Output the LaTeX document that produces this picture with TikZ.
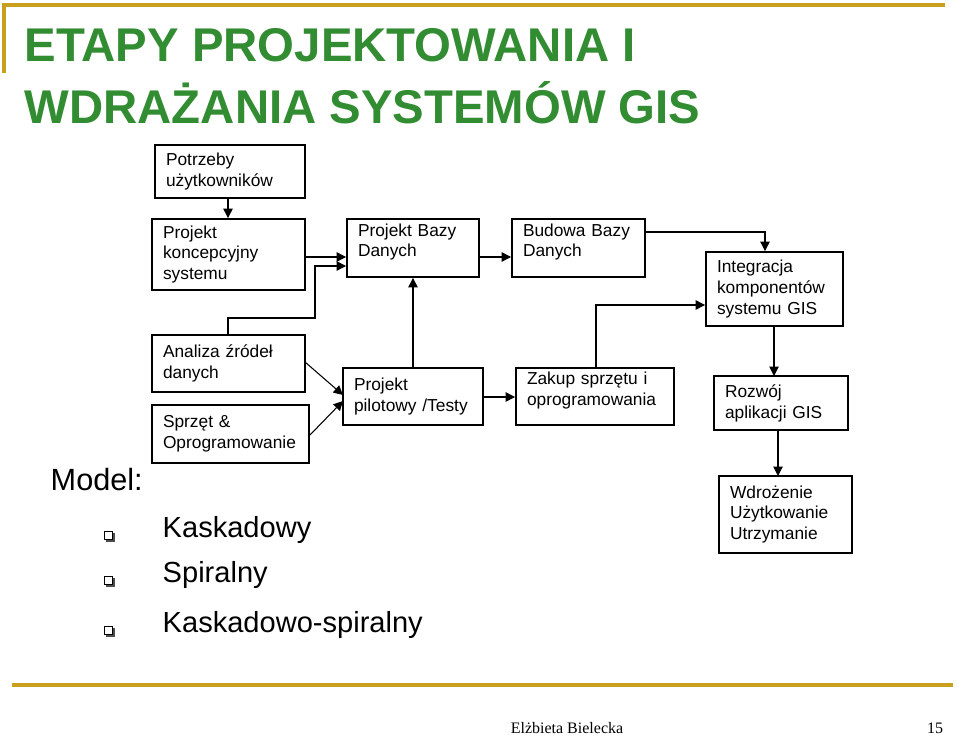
\documentclass[tikz,border=0pt]{standalone}
\usepackage{fontspec}
\setmainfont{Liberation Sans}
\newfontfamily\serifft{Liberation Serif}
\usetikzlibrary{arrows.meta}
\definecolor{gold}{RGB}{200,160,30}
\definecolor{titlegreen}{RGB}{50,140,50}
\begin{document}
\begin{tikzpicture}[x=0.75pt,y=-0.75pt,
  box/.style={draw,line width=1.4pt,inner sep=0pt,font=\fontsize{13}{15.7}\selectfont,align=left},
  arr/.style={-{Triangle[length=7pt,width=7pt]},line width=0.8pt}]
\useasboundingbox (0,0) rectangle (960,737);
\fill[white] (0,0) rectangle (960,737);
% frame
\draw[gold,line width=3pt] (4,73) -- (4,5) -- (945,5);
\draw[gold,line width=3pt] (12,685) -- (953,685);
% title
\node[anchor=west,text=titlegreen,font=\fontsize{35.5}{40}\bfseries] (t1) at (20,45) {ETAPY PROJEKTOWANIA I};
\node[anchor=west,text=titlegreen,font=\fontsize{35.5}{40}\bfseries] (t2) at (20,103) {WDRAŻANIA SYSTEMÓW GIS};
% boxes
\newcommand{\bx}[6]{\node[box,minimum width={(#4-#2)*0.75pt},minimum height={(#5-#3)*0.75pt},text width={(#4-#2-22)*0.75pt}] (#1) at ({(#2+#4)/2},{(#3+#5)/2}) {#6};}
\bx{pot}{155}{145}{305}{198}{Potrzeby\\użytkowników}
\bx{kon}{152}{219}{305}{290}{Projekt\\koncepcyjny\\systemu}
\bx{pbd}{347}{219}{479}{277}{Projekt Bazy\\Danych\\[-4pt]\mbox{}}
\bx{bbd}{512}{219}{645}{277}{Budowa Bazy\\Danych\\[-4pt]\mbox{}}
\bx{int}{706}{252}{843}{326}{Integracja\\komponentów\\systemu GIS}
\bx{ana}{152}{335}{305}{392}{Analiza źródeł\\danych}
\bx{spr}{152}{405}{309}{463}{Sprzęt \&\\Oprogramowanie}
\bx{pil}{343}{368}{483}{425}{Projekt\\pilotowy /Testy}
\bx{zak}{516}{368}{674}{425}{Zakup sprzętu i\\oprogramowania\\[-4pt]\mbox{}}
\bx{roz}{714}{376}{848}{430}{Rozwój\\aplikacji GIS}
\bx{wdr}{719}{476}{852}{553}{Wdrożenie\\Użytkowanie\\Utrzymanie}
% connectors
\draw[arr] (pot.south -| 228,0) -- (kon.north -| 228,0);
\draw[arr] (kon.east |- 0,257) -- (pbd.west |- 0,257);
\draw[arr] (ana.north -| 228,0) -- (228,318) -- (315,318) -- (315,266) -- (pbd.west |- 0,266);
\draw[arr] (305,362) -- (343,395);
\draw[arr] (309,436) -- (343,401);
\draw[arr] (pil.north) -- (pbd.south);
\draw[arr] (pbd.east |- 0,257) -- (bbd.west |- 0,257);
\draw[arr] (pil.east |- 0,397) -- (zak.west |- 0,397);
\draw[arr] (596,368) -- (596,305) -- (int.west |- 0,305);
\draw[arr] (bbd.east |- 0,232) -- (765,232) -- (int.north -| 765,0);
\draw[arr] (774,326) -- (774,376);
\draw[arr] (778,430) -- (778,476);
% model list
\node[anchor=west,font=\fontsize{23}{26}\selectfont] (mod) at (46,480) {Model:};
\foreach \y/\t in {535/Kaskadowy,580/Spiralny,630/Kaskadowo-spiralny}{
  \fill[black!70] (106,\y-2) rectangle (115,\y+7);
  \filldraw[fill=white,draw=black,line width=0.6pt] (104,\y-4) rectangle (112,\y+4);
  \node[anchor=west,font=\fontsize{21.8}{26}\selectfont] at (158,\y-5) {\t};
}
% footer
\node[font=\serifft\fontsize{12}{14}\selectfont] (aut) at (567,728) {Elżbieta Bielecka};
\node[font=\serifft\fontsize{12}{14}\selectfont] (pg) at (935,728) {15};
\end{tikzpicture}
\end{document}
